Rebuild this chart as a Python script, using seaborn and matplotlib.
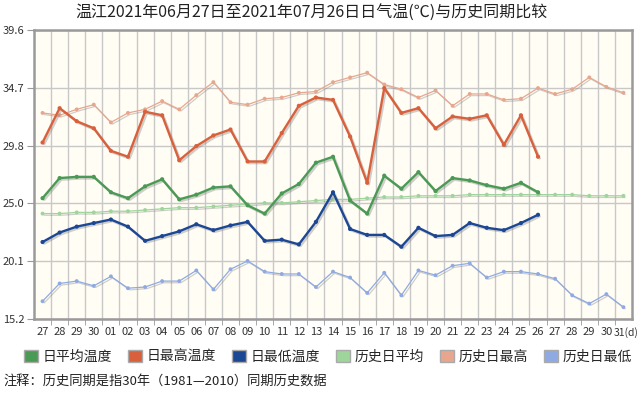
import numpy as np
import pandas as pd
import matplotlib
matplotlib.use("Agg")
import matplotlib.pyplot as plt
import matplotlib.patheffects as pe
import matplotlib.transforms as mtransforms
from matplotlib.patches import Patch
import seaborn as sns

# data
days = ["27", "28", "29", "30"] + ["%02d" % d for d in range(1, 31)] + ["31(d)"]

avg_temp = [25.4, 27.1, 27.2, 27.2, 25.9, 25.4, 26.4, 27.0, 25.3, 25.7,
            26.3, 26.4, 24.8, 24.1, 25.8, 26.6, 28.4, 28.9, 25.2, 24.1,
            27.3, 26.2, 27.6, 26.0, 27.1, 26.9, 26.5, 26.2, 26.7, 25.9]
max_temp = [30.1, 33.0, 31.9, 31.3, 29.4, 28.9, 32.7, 32.4, 28.6, 29.8,
            30.7, 31.2, 28.5, 28.5, 30.9, 33.2, 33.9, 33.7, 30.6, 26.7,
            34.7, 32.6, 33.0, 31.3, 32.3, 32.1, 32.4, 29.9, 32.4, 28.9]
min_temp = [21.7, 22.5, 23.0, 23.3, 23.6, 23.0, 21.8, 22.2, 22.6, 23.2,
            22.7, 23.1, 23.4, 21.8, 21.9, 21.5, 23.4, 25.9, 22.8, 22.3,
            22.3, 21.3, 22.9, 22.2, 22.3, 23.3, 22.9, 22.7, 23.3, 24.0]

hist_avg = [24.1, 24.1, 24.2, 24.2, 24.3, 24.3, 24.4, 24.5, 24.6, 24.6,
            24.7, 24.8, 24.9, 25.0, 25.0, 25.1, 25.2, 25.3, 25.3, 25.4,
            25.5, 25.5, 25.6, 25.6, 25.6, 25.7, 25.7, 25.7, 25.7, 25.7,
            25.7, 25.7, 25.6, 25.6, 25.6]
hist_max = [32.6, 32.4, 32.9, 33.3, 31.8, 32.6, 32.9, 33.6, 32.9, 34.1,
            35.2, 33.5, 33.3, 33.8, 33.9, 34.3, 34.4, 35.2, 35.6, 36.0,
            35.0, 34.6, 33.9, 34.5, 33.2, 34.2, 34.2, 33.7, 33.8, 34.7,
            34.2, 34.6, 35.6, 34.8, 34.3]
hist_min = [16.7, 18.2, 18.4, 18.0, 18.8, 17.8, 17.9, 18.4, 18.4, 19.3,
            17.7, 19.4, 20.1, 19.2, 19.0, 19.0, 17.9, 19.2, 18.7, 17.4,
            19.1, 17.2, 19.3, 18.9, 19.7, 19.9, 18.7, 19.2, 19.2, 19.0,
            18.6, 17.2, 16.5, 17.3, 16.2]

y_ticks = [15.2, 20.1, 25.0, 29.8, 34.7, 39.6]

series = [
    ("日平均温度", avg_temp, "#4a9a55", True),
    ("日最高温度", max_temp, "#d9603c", True),
    ("日最低温度", min_temp, "#1c4795", True),
    ("历史日平均", hist_avg, "#9dd59b", False),
    ("历史日最高", hist_max, "#e8a68e", False),
    ("历史日最低", hist_min, "#8faae3", False),
]

sns.set_style("white")
plt.rcParams["font.family"] = ["Noto Sans CJK SC", "DejaVu Sans"]

fig = plt.figure(figsize=(6.44, 3.97), dpi=100)
ax = fig.add_axes([34 / 644, 1 - 319 / 397, 598 / 644, 289 / 397])
ax.set_facecolor("#fffdf4")

shadow = [pe.SimpleLineShadow(offset=(1.2, -1.2), shadow_color="#777777", alpha=0.35), pe.Normal()]

# historical lines first so observed ones sit on top
for name, vals, color, observed in series[3:] + series[:3]:
    df = pd.DataFrame({"x": np.arange(len(vals)), "y": vals})
    sns.lineplot(data=df, x="x", y="y", ax=ax, color=color,
                 linewidth=1.7 if observed else 0.9,
                 marker="o", markersize=3 if observed else 2.8,
                 markeredgewidth=0, path_effects=shadow, zorder=4 if observed else 3)

n = len(days)
ax.set_xlim(-0.5, n - 0.5)
ax.set_ylim(y_ticks[0], y_ticks[-1])
ax.set_xticks(np.arange(n))
ax.set_xticklabels(days, fontsize=8, color="#333333")
ax.set_xticks(np.arange(n - 1) + 0.5, minor=True)
ax.set_yticks(y_ticks)
ax.set_yticklabels(["%.1f" % v for v in y_ticks], fontsize=8, color="#333333")
ax.tick_params(axis="x", which="major", length=0, pad=6)
ax.tick_params(axis="x", which="minor", length=4, color="#999999", bottom=True)
ax.tick_params(axis="y", length=5, color="#999999", left=True, pad=2)
ax.grid(True, axis="x", which="minor", color="#c8c8c8", linewidth=1)
ax.grid(True, axis="y", which="major", color="#c8c8c8", linewidth=1)
ax.set_axisbelow(True)
ax.set_xlabel("")
ax.set_ylabel("")
for s in ax.spines.values():
    s.set_color("#9a9a9a")
    s.set_linewidth(1.8)

# last label "31(d)" sits a little to the right so it clears "30"
last = ax.get_xticklabels()[-1]
last.set_fontsize(7.5)
last.set_transform(last.get_transform() + mtransforms.ScaledTranslation(3 / 100, 0, fig.dpi_scale_trans))

fig.text(312 / 644, 1 - 12 / 397, "温江2021年06月27日至2021年07月26日日气温(℃)与历史同期比较",
         ha="center", va="center", fontsize=11.5, color="#222222")

handles = [Patch(facecolor=c, edgecolor="#aaaaaa", linewidth=1, label=nm) for nm, _, c, _ in series]
fig.legend(handles=handles, ncol=6, loc="center", bbox_to_anchor=(328 / 644, 1 - 357 / 397),
           frameon=False, fontsize=10, handlelength=1.0, handleheight=1.0,
           handletextpad=0.35, columnspacing=1.15, borderpad=0)

fig.text(3 / 644, 1 - 381 / 397, "注释：历史同期是指30年（1981—2010）同期历史数据",
         ha="left", va="center", fontsize=9.5, color="#222222")

fig.savefig("out.png", dpi=100)
